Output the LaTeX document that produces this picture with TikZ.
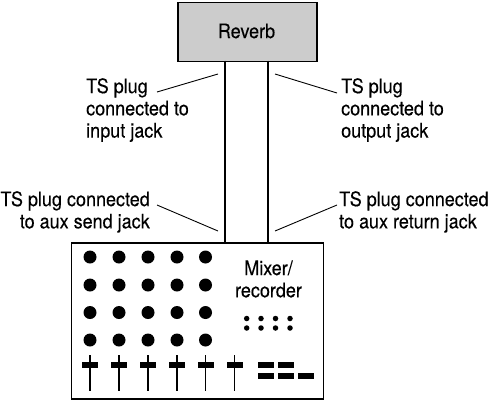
\documentclass[tikz,border=0pt]{standalone}
\usepackage{fontspec}
\setmainfont[FakeStretch=0.9,FakeBold=0.2]{TeX Gyre Heros}
\tikzset{
  box/.style={draw=black,line width=1.6pt,inner sep=0pt,anchor=north west},
  cable/.style={draw=black,line width=1.1pt},
  leader/.style={draw=black,line width=0.9pt},
  label/.style={inner sep=0pt,font=\fontsize{20}{22.2}\selectfont,text=black},
  knob/.style={circle,fill=black,minimum size=13pt,inner sep=0pt},
  tiny/.style={circle,fill=black,minimum size=5.5pt,inner sep=0pt},
  bar/.style={fill=black,minimum width=16pt,minimum height=6.4pt,inner sep=0pt},
  stem/.style={draw=black,line width=1.5pt}
}
\begin{document}
\begin{tikzpicture}[x=1pt,y=-1pt]
\useasboundingbox (0,0) rectangle (489,400);
\node[box,fill=black!20,minimum width=139pt,minimum height=59pt] (reverb) at (177,1.5) {};
\node[label] (reverbtext) at (246.5,31) {Reverb};
\node[box,fill=white,minimum width=252pt,minimum height=156pt] (mixer) at (70.5,242) {};
\coordinate (rl) at (225,60.5); \coordinate (ml) at (225,242);
\coordinate (rr) at (268,60.5); \coordinate (mr) at (268,242);
\draw[cable] (rl) -- (ml);
\draw[cable] (rr) -- (mr);
\node[label,align=left,anchor=north west] (tl) at (86,78) {TS plug\\connected to\\input jack};
\node[label,align=left,anchor=north west] (tr) at (341,78) {TS plug\\connected to\\output jack};
\node[label,align=right,anchor=north east] (bl) at (150,191) {TS plug connected\\to aux send jack};
\node[label,align=left,anchor=north west] (br) at (339,191) {TS plug connected\\to aux return jack};
\node[label,align=center] (mixertext) at (268.5,279) {Mixer/\\recorder};
\coordinate (a1) at (157,92); \coordinate (a2) at (218,74);
\coordinate (b1) at (157,205); \coordinate (b2) at (218,231);
\coordinate (c1) at (275,74); \coordinate (c2) at (337,93);
\coordinate (d1) at (275,231); \coordinate (d2) at (337,205);
\draw[leader] (a1) -- (a2);
\draw[leader] (b1) -- (b2);
\draw[leader] (c1) -- (c2);
\draw[leader] (d1) -- (d2);
\foreach \x/\i in {90/1,119/2,148/3,177/4,205.5/5}
  \foreach \y/\j in {257/1,285/2,312.5/3,340/4}
    \node[knob] (k\i\j) at (\x,\y) {};
\foreach \x/\i in {90/1,119/2,148/3,177/4,205.5/5,234.5/6} {
  \coordinate (ft\i) at (\x,355); \coordinate (fb\i) at (\x,390.5);
  \draw[stem] (ft\i) -- (fb\i);
  \node[bar] (f\i) at (\x,365) {};
}
\foreach \x/\i in {246.7/1,261/2,275.5/3,290/4}
  \foreach \y/\j in {318.5/1,328/2}
    \node[tiny] (s\i\j) at (\x,\y) {};
\node[bar] (b11) at (265.5,365) {};
\node[bar] (b12) at (285.5,365) {};
\node[bar] (b21) at (265.5,376) {};
\node[bar] (b22) at (285.5,376) {};
\node[bar] (b23) at (306,376) {};
\end{tikzpicture}
\end{document}
